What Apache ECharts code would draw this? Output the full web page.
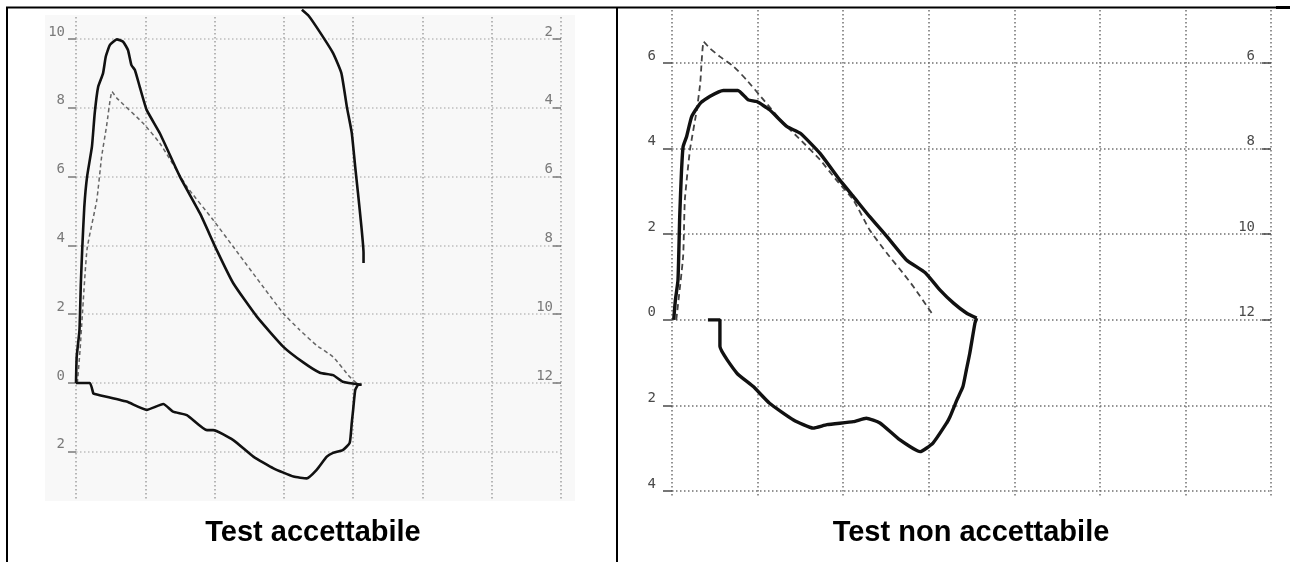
<!DOCTYPE html>
<html><head><meta charset="utf-8">
<script src="https://cdn.jsdelivr.net/npm/echarts@6/dist/echarts.min.js"></script>
<style>html,body{margin:0;padding:0;background:#fff}#c{width:1290px;height:562px}</style>
</head><body><div id="c"></div>
<script>
// ---- Left panel: acceptable test (volume, flow) ----
const leftExp = [[0,0],[0.01,0.76],[0.05,1.54],[0.07,2.9],[0.09,3.9],[0.12,5.13],[0.16,6.0],[0.23,6.87],[0.27,7.84],[0.32,8.61],[0.39,9.0],[0.43,9.49],[0.49,9.83],[0.59,9.99],[0.68,9.92],[0.75,9.68],[0.80,9.24],[0.85,9.10],[0.92,8.61],[1.02,7.94],[1.21,7.26],[1.5,6.0],[1.79,4.93],[2.03,3.87],[2.27,2.9],[2.61,1.93],[2.99,1.06],[3.28,0.6],[3.52,0.3],[3.71,0.23],[3.85,0.04],[4.12,-0.05]];
const leftInsp = [[4.12,-0.05],[4.07,-0.06],[4.03,-0.2],[4.0,-0.78],[3.98,-1.16],[3.95,-1.74],[3.85,-1.95],[3.71,-2.03],[3.62,-2.14],[3.47,-2.53],[3.33,-2.77],[3.14,-2.72],[2.85,-2.48],[2.56,-2.14],[2.27,-1.66],[1.98,-1.37],[1.89,-1.37],[1.6,-0.93],[1.4,-0.83],[1.26,-0.61],[1.02,-0.78],[0.73,-0.54],[0.27,-0.32],[0.25,-0.3],[0.2,0],[0,0]];
const leftPred = [[0.02,0],[0.06,1.0],[0.09,1.93],[0.16,3.9],[0.3,5.32],[0.37,6.58],[0.44,7.45],[0.52,8.47],[0.59,8.28],[0.97,7.55],[1.21,6.97],[1.6,5.71],[1.98,4.74],[2.27,3.96],[2.99,2.03],[3.23,1.54],[3.47,1.1],[3.71,0.76],[3.95,0.18],[4.05,0]];
const leftVolTime = [[3.26,10.85],[3.36,10.67],[3.52,10.2],[3.71,9.59],[3.83,9.01],[3.91,8.02],[3.98,7.27],[4.03,6.28],[4.07,5.52],[4.12,4.53],[4.15,3.78],[4.15,3.49]];

// ---- Right panel: non-acceptable test ----
const rightExp = [[0.02,0],[0.04,0.47],[0.07,0.93],[0.09,2.41],[0.11,3.43],[0.13,4.05],[0.17,4.28],[0.23,4.75],[0.33,5.06],[0.44,5.22],[0.60,5.36],[0.77,5.36],[0.89,5.14],[0.99,5.10],[1.14,4.91],[1.34,4.52],[1.50,4.36],[1.73,3.89],[1.96,3.27],[2.12,2.88],[2.31,2.41],[2.51,1.95],[2.74,1.40],[2.96,1.10],[3.13,0.70],[3.29,0.39],[3.44,0.16],[3.56,0.04]];
const rightInsp = [[3.56,0.04],[3.54,-0.08],[3.48,-0.78],[3.44,-1.17],[3.40,-1.56],[3.33,-1.87],[3.25,-2.26],[3.21,-2.41],[3.05,-2.88],[2.90,-3.08],[2.66,-2.80],[2.43,-2.41],[2.27,-2.30],[2.12,-2.38],[1.81,-2.45],[1.65,-2.53],[1.42,-2.34],[1.14,-1.95],[0.95,-1.56],[0.76,-1.25],[0.56,-0.62],[0.56,0],[0.42,0]];
const rightPred = [[0.05,0],[0.13,1.48],[0.15,2.80],[0.21,3.97],[0.29,4.91],[0.33,5.53],[0.37,6.50],[0.44,6.35],[0.56,6.15],[0.72,5.92],[0.87,5.61],[1.07,5.14],[1.30,4.60],[1.50,4.21],[1.73,3.74],[1.92,3.27],[2.12,2.80],[2.31,2.10],[2.51,1.56],[2.70,1.09],[2.82,0.78],[3.01,0.23],[3.04,0.14]];

// ---- Tick labels ----
const xTicks = [0,1,2,3,4,5,6,7];
const leftYTicks = [-2,0,2,4,6,8,10];
const leftYLabels = ['2','0','2','4','6','8','10'];
const leftRTicks = [0,2,4,6,8,10];
const leftRLabels = ['12','10','8','6','4','2'];
const rightYTicks = [-4,-2,0,2,4,6];
const rightYLabels = ['4','2','0','2','4','6'];
const rightRTicks = [0,2,4,6];
const rightRLabels = ['12','10','8','6'];
const captions = ['Test accettabile','Test non accettabile'];

function lab(ticks, labels){ return v => { const i = ticks.findIndex(t => Math.abs(t - v) < 1e-6); return i < 0 ? '' : labels[i]; }; }

function yAx(g, min, max, ticks, labels, pos, col, gridCol, showSplit, margin, tlen){
  return {
    type:'value', gridIndex:g, min:min, max:max, position:pos,
    axisLine:{show:false},
    axisTick:{show:true, customValues:ticks, length:tlen, inside:pos==='right', lineStyle:{color:col, width:1.5}},
    axisLabel:{customValues:ticks, formatter:lab(ticks, labels), inside:pos==='right', margin:margin, verticalAlign:'bottom',
      fontFamily:'"DejaVu Sans Mono", monospace', fontSize:14, color:col},
    splitLine:{show:showSplit, lineStyle:{type:[1.5,2.5], color:gridCol, width:1.5}}
  };
}
function xAx(g, gridCol){
  return {type:'value', gridIndex:g, min:xTicks[0], max:xTicks[xTicks.length-1], interval:1,
    axisLine:{show:false}, axisTick:{show:false}, axisLabel:{show:false},
    splitLine:{show:true, lineStyle:{type:[1.5,2.5], color:gridCol, width:1.5}}};
}
function ln(data, xi, yi, w, col, dash){
  return {type:'line', xAxisIndex:xi, yAxisIndex:yi, data:data, showSymbol:false, symbol:'none', clip:false, smooth:0.15,
    lineStyle:{width:w, color:col, type:dash || 'solid'}};
}

const chart = echarts.init(document.getElementById('c'));
chart.setOption({
  animation:false,
  backgroundColor:'#fff',
  grid:[{left:76, top:17, width:485, height:483}, {left:672, top:10, width:599, height:487}],
  xAxis:[xAx(0,'#a0a0a0'), xAx(1,'#707070')],
  yAxis:[
    yAx(0,-3.4,10.64,leftYTicks,leftYLabels,'left','#7a7a7a','#bdbdbd',true,11,8),
    yAx(0,-3.4,10.64,leftRTicks,leftRLabels,'right','#7a7a7a','#bdbdbd',false,8,8),
    yAx(1,-4.14,7.24,rightYTicks,rightYLabels,'left','#4a4a4a','#707070',true,16,9),
    yAx(1,-4.14,7.24,rightRTicks,rightRLabels,'right','#4a4a4a','#707070',false,16,9)
  ],
  series:[
    ln(leftPred,0,0,1.5,'#666',[4,3]),
    ln(leftExp,0,0,2.6,'#111'),
    ln(leftInsp,0,0,2.6,'#111'),
    ln(leftVolTime,0,0,2.6,'#111'),
    ln(rightPred,1,2,1.8,'#444',[6,4]),
    ln(rightExp,1,2,3.4,'#111'),
    ln(rightInsp,1,2,3.4,'#111')
  ],
  graphic:[
    {type:'rect', z:-10, shape:{x:45, y:15, width:530, height:486}, style:{fill:'#f8f8f8'}},
    {type:'line', shape:{x1:6, y1:7.5, x2:1290, y2:7.5}, style:{stroke:'#000', lineWidth:2}},
    {type:'line', shape:{x1:1276, y1:7.5, x2:1290, y2:7.5}, style:{stroke:'#000', lineWidth:3}},
    {type:'line', shape:{x1:7, y1:7, x2:7, y2:562}, style:{stroke:'#000', lineWidth:2}},
    {type:'line', shape:{x1:617, y1:7, x2:617, y2:562}, style:{stroke:'#000', lineWidth:2}},
    {type:'text', x:313, y:533, style:{text:captions[0], font:'bold 29px "Liberation Sans", Arial, sans-serif', fill:'#000', textAlign:'center', textVerticalAlign:'middle'}},
    {type:'text', x:971, y:533, style:{text:captions[1], font:'bold 29px "Liberation Sans", Arial, sans-serif', fill:'#000', textAlign:'center', textVerticalAlign:'middle'}}
  ]
});
</script></body></html>
